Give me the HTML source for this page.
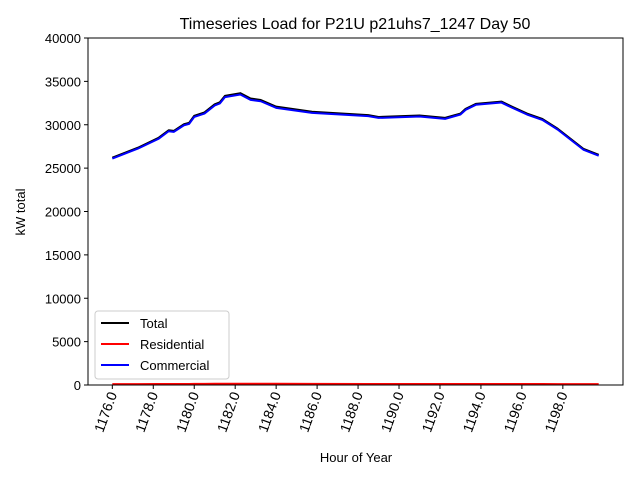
<!DOCTYPE html>
<html><head><meta charset="utf-8"><style>body{margin:0;background:#fff}svg{display:block;font-family:"Liberation Sans","DejaVu Sans",sans-serif}</style></head>
<body>
<svg id="chart" width="640" height="480">
<rect width="640" height="480" fill="#fff"/>
<text x="355" y="29" font-size="16" text-anchor="middle">Timeseries Load for P21U p21uhs7_1247  Day 50</text>
<g id="plot"></g>
<rect x="88" y="38" width="535" height="347" fill="none" stroke="#000" stroke-width="1"/>
<text x="356" y="462" font-size="13" text-anchor="middle">Hour of Year</text>
<text transform="translate(25,212) rotate(-90)" font-size="13" text-anchor="middle">kW total</text>
<g>
<rect x="95" y="311" width="134" height="68" rx="3" fill="#fff" fill-opacity="0.8" stroke="#ccc"/>
<line x1="101" y1="323" x2="129" y2="323" stroke="#000" stroke-width="2"/>
<text x="140" y="328" font-size="13">Total</text>
<line x1="101" y1="344" x2="129" y2="344" stroke="#f00" stroke-width="2"/>
<text x="140" y="349" font-size="13">Residential</text>
<line x1="101" y1="365" x2="129" y2="365" stroke="#00f" stroke-width="2"/>
<text x="140" y="370" font-size="13">Commercial</text>
</g>
</svg>
<script>
const hours = [1176,1177.25,1178.25,1178.75,1179,1179.5,1179.75,1180,1180.5,1181,1181.25,1181.5,1182.25,1182.75,1183.25,1184,1185.75,1188.5,1189,1191,1192.25,1193,1193.25,1193.75,1195,1195.5,1196.25,1197,1197.75,1199,1199.75];
const commercial = [26100,27250,28370,29250,29180,29940,30100,30900,31290,32220,32450,33180,33490,32870,32710,31950,31370,30990,30790,30950,30680,31180,31720,32300,32560,31990,31180,30560,29440,27130,26440];
const residential = [100,100,110,110,110,120,120,130,130,140,140,150,150,150,140,140,130,120,110,110,110,110,110,110,110,110,110,110,100,100,100];
const total = commercial.map((c,i)=>c+residential[i]);
const xTicks = [1176,1178,1180,1182,1184,1186,1188,1190,1192,1194,1196,1198];
const yTicks = [0,5000,10000,15000,20000,25000,30000,35000,40000];

const L=88,R=623,T=38,B=385, x0=1174.8125,x1=1200.9375, y0=0,y1=40000;
const xs=h=>L+(h-x0)/(x1-x0)*(R-L);
const ys=v=>B-(v-y0)/(y1-y0)*(B-T);
const NS="http://www.w3.org/2000/svg";
const plot=document.getElementById('plot');
function mk(tag,attrs,parent){const e=document.createElementNS(NS,tag);for(const k in attrs)e.setAttribute(k,attrs[k]);(parent||plot).appendChild(e);return e;}
xTicks.forEach(h=>{
  const x=xs(h);
  const t=mk('line',{x1:x,x2:x,y1:B,y2:B+4,stroke:'#000'});
  
  
  const lb=mk('text',{transform:`translate(${x+5},${B+9}) rotate(-70)`,'font-size':14,'text-anchor':'end'});
  lb.textContent=h.toFixed(1);
  
  
});
yTicks.forEach(v=>{
  const y=ys(v);
  const t=mk('line',{x1:L-4,x2:L,y1:y,y2:y,stroke:'#000'});
  
  
  const lb=mk('text',{x:L-7,y:y+5,'font-size':13,'text-anchor':'end'});
  lb.textContent=v;
  
  
});
function line(vals,color,name){
  const p=mk('polyline',{points:vals.map((v,i)=>xs(hours[i])+','+ys(v)).join(' '),fill:'none',stroke:color,'stroke-width':2,'stroke-linejoin':'round'});
  
  
}
line(total,'#000','total-line');
line(residential,'#f00','residential-line');
line(commercial,'#00f','commercial-line');
</script>
</body></html>
